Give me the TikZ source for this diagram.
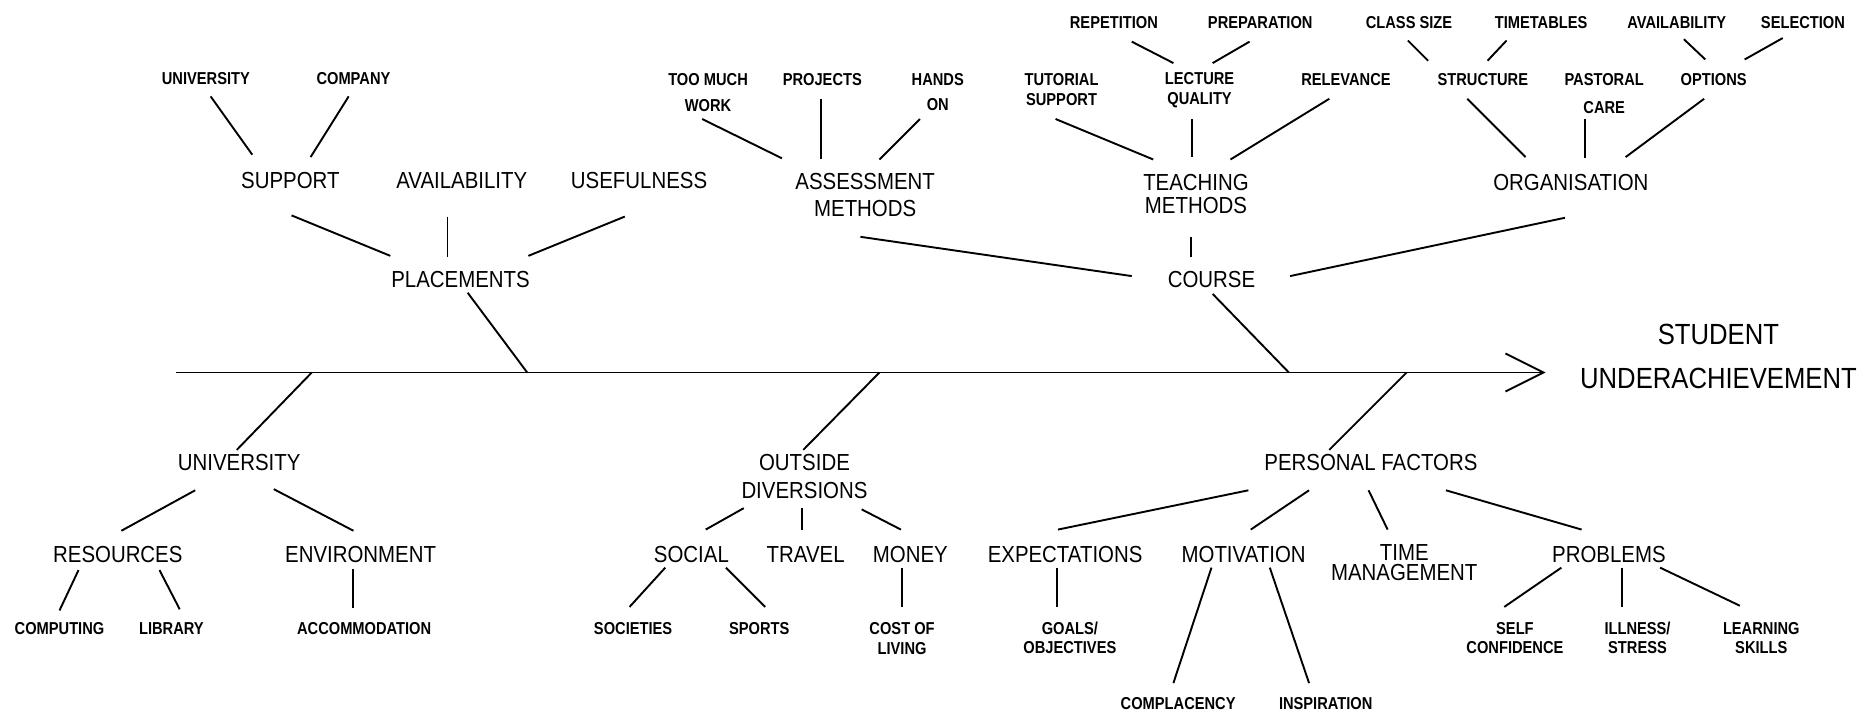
\documentclass[tikz,border=0pt]{standalone}
\usepackage{fontspec}
\setmainfont{Liberation Sans}[FakeStretch=0.88]
\newfontfamily\smfam{Liberation Sans}[FakeStretch=0.85]
\tikzset{
  big/.style={inner sep=0pt, align=center, font=\fontsize{19.5}{23}\selectfont},
  sm/.style={inner sep=0pt, align=center, font=\smfam\bfseries\fontsize{14.5}{17}\selectfont},
  con/.style={line width=1.6pt},
}
\newcommand\cn[6]{\draw[con] ([shift={(#2,#3)}]#1.center) -- ([shift={(#5,#6)}]#4.center);}
\begin{document}
\begin{tikzpicture}[x=1pt,y=-1pt]
\useasboundingbox (0,0) rectangle (1568,601);
% ---------- top left: placements
\node[sm] (suU) at (173,66) {UNIVERSITY};
\node[sm] (suC) at (297,66) {COMPANY};
\node[big] (sup) at (244,152) {SUPPORT};
\node[big] (pav) at (388,152) {AVAILABILITY};
\node[big] (use) at (537,152) {USEFULNESS};
\node[big] (plc) at (387,235) {PLACEMENTS};
% ---------- assessment
\node[sm,font=\smfam\bfseries\fontsize{14.5}{22}\selectfont] (tmw) at (595,78) {TOO MUCH\\WORK};
\node[sm] (prj) at (691,67) {PROJECTS};
\node[sm,font=\smfam\bfseries\fontsize{14.5}{21}\selectfont] (hon) at (788,77.5) {HANDS\\ON};
\node[big] (asm) at (727,164) {ASSESSMENT\\METHODS};
% ---------- teaching
\node[sm] (rep) at (936,19) {REPETITION};
\node[sm] (prep) at (1059,19) {PREPARATION};
\node[sm] (tut) at (892,75.5) {TUTORIAL\\SUPPORT};
\node[sm] (lq) at (1008,75.5) {LECTURE\\QUALITY};
\node[sm] (rel) at (1131,67) {RELEVANCE};
\node[big,font=\fontsize{19.5}{20}\selectfont] (tm) at (1005,163) {TEACHING\\METHODS};
\node[big] (crs) at (1018,235) {COURSE};
% ---------- organisation
\node[sm] (cls) at (1184,19) {CLASS SIZE};
\node[sm] (tt) at (1295,19) {TIMETABLES};
\node[sm] (oav) at (1409,19) {AVAILABILITY};
\node[sm] (sel) at (1515,19) {SELECTION};
\node[sm] (str) at (1246,67) {STRUCTURE};
\node[sm,font=\smfam\bfseries\fontsize{14.5}{23}\selectfont] (pas) at (1348,78.5) {PASTORAL\\CARE};
\node[sm] (opt) at (1440,67) {OPTIONS};
\node[big] (org) at (1320,153) {ORGANISATION};
% ---------- effect
\node[inner sep=0pt, align=center, font=\fontsize{24.5}{37}\selectfont] (eff) at (1444,299.5) {STUDENT\\UNDERACHIEVEMENT};
% ---------- bottom: university
\node[big] (uni) at (201,389) {UNIVERSITY};
\node[big] (res) at (99,466) {RESOURCES};
\node[big] (env) at (303,466) {ENVIRONMENT};
\node[sm] (cmp) at (50,528) {COMPUTING};
\node[sm] (lib) at (144,528) {LIBRARY};
\node[sm] (acc) at (306,528) {ACCOMMODATION};
% ---------- outside diversions
\node[big] (out) at (676,400.5) {OUTSIDE\\DIVERSIONS};
\node[big] (soc) at (581,466) {SOCIAL};
\node[big] (trv) at (677,466) {TRAVEL};
\node[big] (mon) at (765,466) {MONEY};
\node[sm] (sct) at (532,528) {SOCIETIES};
\node[sm] (spt) at (638,528) {SPORTS};
\node[sm] (col) at (758,536.5) {COST OF\\LIVING};
% ---------- personal factors
\node[big] (pf) at (1152,389) {PERSONAL FACTORS};
\node[big] (exp) at (895,466) {EXPECTATIONS};
\node[big] (mot) at (1045,466) {MOTIVATION};
\node[big,font=\fontsize{19.5}{17}\selectfont] (tim) at (1180,472.5) {TIME\\MANAGEMENT};
\node[big] (prb) at (1352,466) {PROBLEMS};
\node[sm,font=\smfam\bfseries\fontsize{14.5}{16}\selectfont] (gol) at (899,536) {GOALS/\\OBJECTIVES};
\node[sm] (cpl) at (990,591) {COMPLACENCY};
\node[sm] (ins) at (1114,591) {INSPIRATION};
\node[sm,font=\smfam\bfseries\fontsize{14.5}{16}\selectfont] (slf) at (1273,536) {SELF\\CONFIDENCE};
\node[sm,font=\smfam\bfseries\fontsize{14.5}{16}\selectfont] (ill) at (1376,536) {ILLNESS/\\STRESS};
\node[sm,font=\smfam\bfseries\fontsize{14.5}{16}\selectfont] (lrn) at (1480,536) {LEARNING\\SKILLS};
% ---------- spine
\coordinate (spS) at (148,313);
\coordinate (tip) at (1297,313);
\coordinate (jP) at (443,313);
\coordinate (jC) at (1083,313);
\coordinate (jU) at (262,313);
\coordinate (jO) at (739,313);
\coordinate (jF) at (1182,313);
\draw[con] (spS) -- (tip);
\draw[con,line join=miter] ([shift={(-32,-16)}]tip) -- (tip) -- ([shift={(-32,16)}]tip);
% ---------- connectors top
\cn{suU}{4}{15}{sup}{-32}{-22}
\cn{suC}{-4}{15}{sup}{17}{-20}
\cn{sup}{1}{29}{plc}{-59}{-20}
\cn{pav}{-12}{30}{plc}{-11}{-19}
\cn{use}{-12}{30}{plc}{57}{-20}
\draw[con] ([shift={(6,11)}]plc.center) -- (jP);
\cn{tmw}{-5}{22}{asm}{-70}{-31}
\cn{prj}{-1}{16}{asm}{-37}{-30}
\cn{hon}{-15}{22.5}{asm}{12}{-30}
\cn{asm}{-4}{35}{crs}{-67}{-3}
\cn{rep}{15}{16}{lq}{-22}{-22.5}
\cn{prep}{-9}{16}{lq}{11}{-22.5}
\cn{tut}{-5}{24.5}{tm}{-36}{-29}
\cn{lq}{-6}{24.5}{tm}{-3}{-31}
\cn{rel}{-14}{16}{tm}{29}{-29}
\cn{tm}{-4}{36}{crs}{-17}{-19}
\draw[con] ([shift={(1,12)}]crs.center) -- (jC);
\cn{org}{-5}{30}{crs}{66}{-3}
\cn{cls}{-1}{15}{str}{-46}{-16}
\cn{tt}{-29}{15}{str}{4}{-16}
\cn{oav}{6}{14}{opt}{-7}{-17}
\cn{sel}{-17}{13}{opt}{26}{-17}
\cn{str}{-13}{16}{org}{-38}{-21}
\cn{pas}{-16}{21.5}{org}{12}{-20}
\cn{opt}{-8}{16}{org}{46}{-21}
% ---------- connectors bottom
\draw[con] (jU) -- ([shift={(-2,-11)}]uni.center);
\cn{uni}{-37}{23}{res}{3}{-20}
\cn{uni}{29}{22}{env}{-6}{-20}
\cn{res}{-33}{13}{cmp}{0}{-15}
\cn{res}{35}{13}{lib}{7}{-16}
\cn{env}{-6}{12}{acc}{-9}{-17}
\draw[con] (jO) -- ([shift={(-1,-22.5)}]out.center);
\cn{out}{-51}{26.5}{soc}{12}{-21}
\cn{out}{-2}{26.5}{trv}{-3}{-21}
\cn{out}{48}{27.5}{mon}{-8}{-21}
\cn{soc}{-22}{11}{sct}{-3}{-18}
\cn{soc}{29}{11}{spt}{5}{-18}
\cn{mon}{-7}{11}{col}{0}{-26.5}
\draw[con] (jF) -- ([shift={(-35,-11)}]pf.center);
\cn{pf}{-103}{23}{exp}{-6}{-21}
\cn{pf}{-52}{23}{mot}{6}{-21}
\cn{pf}{-2}{23}{tim}{-14}{-27.5}
\cn{pf}{63}{23}{prb}{-23}{-21}
\cn{exp}{-7}{11}{gol}{-11}{-26}
\cn{mot}{-27}{11}{cpl}{-4}{-17}
\cn{mot}{22}{11}{ins}{-14}{-17}
\cn{prb}{-40}{11}{slf}{-9}{-26}
\cn{prb}{11}{11}{ill}{-13}{-26}
\cn{prb}{43}{11}{lrn}{-18}{-27}
\end{tikzpicture}
\end{document}
